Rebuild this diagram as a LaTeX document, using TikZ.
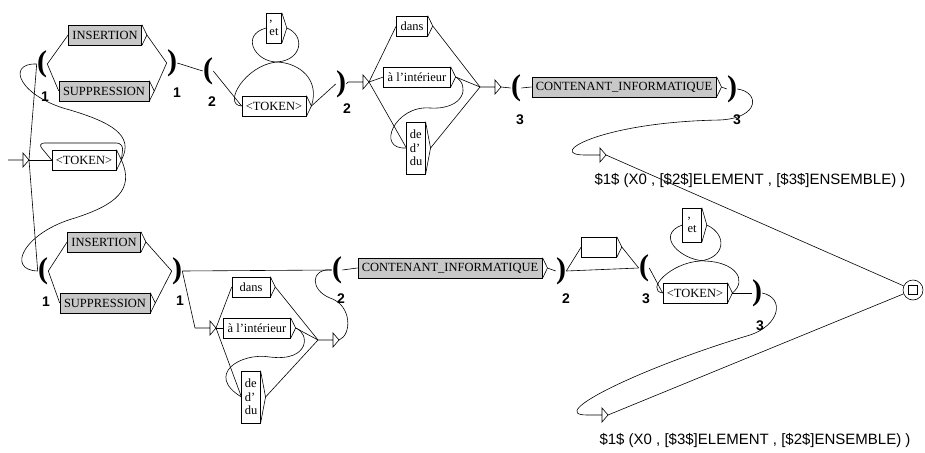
\documentclass[tikz,border=0pt]{standalone}
\usepackage{tikz}
\usepackage{fontspec}
\setmainfont{Liberation Serif}
\newfontfamily\sansfnt{Liberation Sans}
\definecolor{boxgray}{RGB}{200,200,200}
\tikzset{box/.style={draw, fill=white, inner xsep=4pt, inner ysep=2pt,
  minimum height=20pt, font=\fontsize{12.5}{13.5}\selectfont},
  graybox/.style={box, fill=boxgray},
  stackbox/.style={box, align=left, inner xsep=3pt},
  paren/.style={inner sep=0pt, font=\fontsize{30}{30}\selectfont\bfseries},
  varnum/.style={font=\sansfnt\bfseries\fontsize{14}{14}\selectfont},
  outtext/.style={font=\sansfnt\fontsize{15}{16}\selectfont}}

\begin{document}
\begin{tikzpicture}[x=1pt,y=-1pt,line width=0.6pt]
\useasboundingbox (0,0) rectangle (925,452);

\node [box] (tok0) at (84,160) {<TOKEN>};

\node [paren] (p1a) at (42,64) {(};
\node [graybox] (ins1) at (105,35) {INSERTION};
\node [graybox] (sup1) at (104,91) {SUPPRESSION};
\node [paren] (q1a) at (172,63) {)};
\node [paren] (p2a) at (208,71) {(};
\node [box] (tok1) at (274,106) {<TOKEN>};
\node [stackbox, minimum height=30pt] (et1) at (274,28) {,\\et};
\node [paren] (q2a) at (341,84) {)};
\node [box] (dans1) at (412,26) {dans};
\node [box] (int1) at (417,77) {à l’intérieur};
\node [stackbox, minimum height=52pt] (de1) at (416,148) {de\\d’\\du};
\node [paren] (p3a) at (516,88) {(};
\node [graybox] (cont1) at (624,87) {CONTENANT\_INFORMATIQUE};
\node [paren] (q3a) at (732,89) {)};

\node [varnum] (n1a) at (45,97) {1};
\node [varnum] (m1a) at (177,93) {1};
\node [varnum] (n2a) at (212,102) {2};
\node [varnum] (m2a) at (347,109) {2};
\node [varnum] (n3a) at (520,120) {3};
\node [varnum] (m3a) at (737,120) {3};

\node [paren] (p1b) at (43,271) {(};
\node [graybox] (ins2) at (104,242) {INSERTION};
\node [graybox] (sup2) at (105,303) {SUPPRESSION};
\node [paren] (q1b) at (177,271) {)};
\node [box, minimum width=38pt] (dans2) at (251,287) {dans};
\node [box] (int2) at (257,328) {à l’intérieur};
\node [stackbox, minimum height=52pt] (de2) at (251,397) {de\\d’\\du};
\node [paren] (p2b) at (337,270) {(};
\node [graybox] (cont2) at (450,268) {CONTENANT\_INFORMATIQUE};
\node [paren] (q2b) at (561,271) {)};
\node [box, minimum width=35pt] (blank) at (599,247) {};
\node [paren] (p3b) at (644,268) {(};
\node [box] (tok2) at (695,293) {<TOKEN>};
\node [stackbox, minimum height=34pt, inner xsep=5pt] (et2) at (692,225) {,\\et};
\node [paren] (q3b) at (757,293) {)};

\node [varnum] (n1b) at (46,302) {1};
\node [varnum] (m1b) at (180,301) {1};
\node [varnum] (n2b) at (341,299) {2};
\node [varnum] (m2b) at (566,299) {2};
\node [varnum] (n3b) at (646,299) {3};
\node [varnum] (m3b) at (760,326) {3};

\node [outtext] (out1) at (750,181) {\$1\$ (X0 , [\$2\$]ELEMENT , [\$3\$]ENSEMBLE) )};
\node [outtext] (out2) at (755,440) {\$1\$ (X0 , [\$3\$]ELEMENT , [\$2\$]ENSEMBLE) )};

\node [draw, circle, minimum size=20pt, inner sep=0pt] (final) at (913,290) {};
\node [draw, minimum size=9pt, inner sep=0pt] (finalsq) at (final) {};

\foreach \b in {tok0,ins1,sup1,tok1,et1,dans1,int1,de1,cont1,ins2,sup2,dans2,int2,de2,cont2,blank,tok2,et2} {
  \draw (\b.north east) -- ([xshift=5pt]\b.east) -- (\b.south east);
  \coordinate (\b-out) at ([xshift=5pt]\b.east);
}
\foreach \n/\x/\y in {init/8/160, E1/348/82, E2/480/87, E3/585/155, E4/195/328, E5/318/340, E6/587/415} {
  \coordinate (\n-in) at (\x,\y);
  \coordinate (\n-out) at (\x+21,\y);
  \draw (\n-in) -- ++(15,0) -- ++(0,-7) -- ++(6,7) -- ++(-6,7) -- ++(0,-7);
}

\draw (init-out) -- (p1a.west);
\draw (init-out) -- (p1b.west);
\draw (init-out) -- (tok0.west);
\draw [rounded corners=7pt] (tok0-out) -- ++(2,-17) -- ++(-86,0) -- (tok0.west);
\draw (tok0-out) .. controls (135,135) and (110,122) .. (70,110) .. controls (20,97) and (5,63) .. (p1a.west);
\draw (tok0-out) .. controls (135,190) and (115,205) .. (75,218) .. controls (25,232) and (5,270) .. (p1b.west);

\draw (p1a.east) -- (ins1.west);
\draw (p1a.east) -- (sup1.west);
\draw (ins1-out) -- (q1a.west);
\draw (sup1-out) -- (q1a.west);
\draw (q1a.east) -- (p2a.west);
\draw (p2a.east) -- (tok1.west);
\draw (tok1-out) .. controls (320,80) and (300,63) .. (277,62) .. controls (255,62) and (240,35) .. (et1.west);
\draw (et1-out) .. controls (305,35) and (303,60) .. (277,62) .. controls (245,65) and (222,105) .. (tok1.west);
\draw (tok1-out) -- (q2a.west);
\draw (q2a.east) -- (E1-in);
\draw (E1-out) -- (dans1.west);
\draw (E1-out) -- (int1.west);
\draw (E1-out) -- (de1.west);
\draw (dans1-out) -- (E2-in);
\draw (int1-out) -- (E2-in);
\draw (de1-out) -- (E2-in);
\draw (int1-out) .. controls (470,85) and (465,110) .. (430,108) .. controls (395,105) and (375,150) .. (de1.west);
\draw (E2-out) -- (p3a.west);
\draw (p3a.east) -- (cont1.west);
\draw (cont1-out) -- (q3a.west);
\draw (q3a.east) .. controls (760,92) and (760,118) .. (720,120) .. controls (600,122) and (545,155) .. (E3-in);
\draw (E3-out) -- (final);

\draw (p1b.east) -- (ins2.west);
\draw (p1b.east) -- (sup2.west);
\draw (ins2-out) -- (q1b.west);
\draw (sup2-out) -- (q1b.west);
\draw (q1b.east) -- (p2b.west);
\draw (q1b.east) -- (E4-in);
\draw (E4-out) -- (dans2.west);
\draw (E4-out) -- (int2.west);
\draw (E4-out) -- (de2.west);
\draw (dans2-out) -- (E5-in);
\draw (int2-out) -- (E5-in);
\draw (de2-out) -- (E5-in);
\draw (int2-out) .. controls (310,333) and (310,362) .. (270,357) .. controls (240,352) and (205,375) .. (de2.west);
\draw (E5-out) .. controls (352,335) and (352,305) .. (330,298) .. controls (310,290) and (310,268) .. (p2b.west);
\draw (p2b.east) -- (cont2.west);
\draw (cont2-out) -- (q2b.west);
\draw (q2b.east) -- (blank.west);
\draw (blank-out) -- (p3b.west);
\draw (q2b.east) -- (p3b.west);
\draw (p3b.east) -- (tok2.west);
\draw (tok2-out) .. controls (748,280) and (735,262) .. (705,261) .. controls (680,260) and (655,235) .. (et2.west);
\draw (et2-out) .. controls (728,235) and (725,258) .. (700,261) .. controls (670,263) and (645,290) .. (tok2.west);
\draw (tok2-out) -- (q3b.west);
\draw (q3b.east) .. controls (785,298) and (780,325) .. (750,335) .. controls (640,368) and (545,415) .. (E6-in);
\draw (E6-out) -- (final);

\end{tikzpicture}
\end{document}
